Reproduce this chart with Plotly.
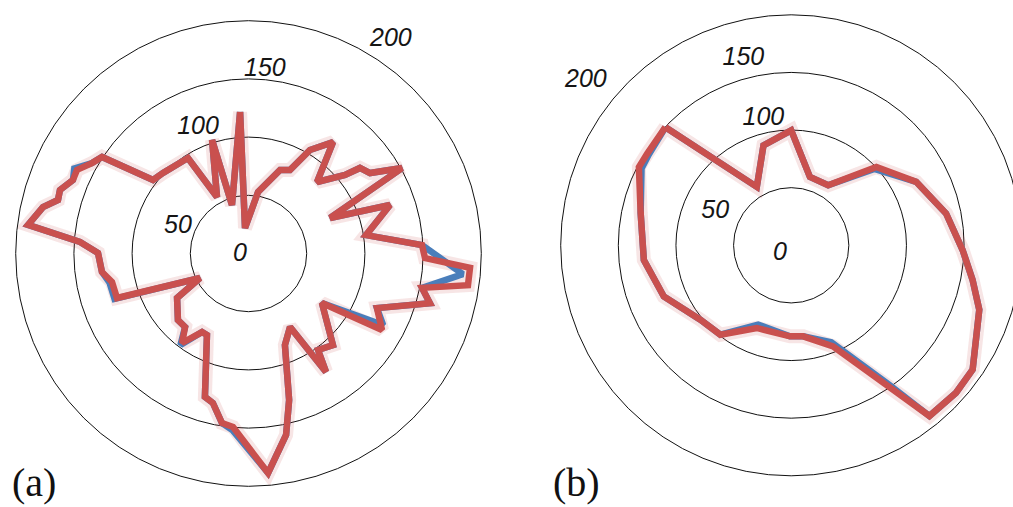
import plotly.graph_objects as go

# ---------------- data ----------------
# chart (a): angles in degrees (clockwise from north) and radial values
a_theta = [356.6, 352.2, 8.8, 20.7, 26.4, 30.7, 37.2, 43.8, 50.9, 52.5, 56.5, 60.9,
           66.5, 71.1, 81.1, 87.2, 91.5, 93.7, 98.2, 101.2, 105.3, 113.0, 119.8, 124.0,
           137.3, 144.2, 146.8, 150.5, 158.3, 164.5, 168.3, 174.9, 185.1, 188.9, 193.4,
           196.9, 207.0, 210.6, 216.6, 220.8, 226.7, 238.1, 243.2, 251.3, 258.2, 262.8,
           270.2, 273.9, 277.4, 282.7, 285.7, 288.6, 292.7, 296.0, 300.0, 303.4, 307.6,
           313.3, 327.6, 330.9, 342.2, 341.2]
a_red = [121.8, 22.1, 53.5, 76.7, 80.1, 103.4, 120.2, 85.1, 106.9, 120.7, 125.2, 150.9,
         76.4, 128.5, 102.2, 149.2, 151.7, 190.7, 190.5, 152.0, 161.6, 119.9, 132.2, 76.1,
         107.0, 102.2, 121.6, 72.5, 84.6, 130.6, 159.2, 189.3, 149.7, 147.4, 132.0,
         128.8, 78.6, 78.4, 95.8, 83.4, 83.3, 72.3, 46.7, 119.3, 119.8, 126.9,
         129.3, 145.1, 191.0, 181.0, 170.0, 170.9, 163.5, 163.9, 155.3, 150.7, 103.5,
         100.9, 97.1, 55.6, 102.4, 44.0]
a_theta_blue = [356.6, 352.2, 8.8, 20.7, 26.4, 30.7, 37.2, 43.8, 50.9, 52.5, 56.5, 60.9,
                66.5, 71.1, 81.1, 87.2, 95.5, 101.2, 105.3, 113.0, 118.0, 124.0,
                137.3, 144.2, 146.8, 150.5, 158.3, 164.5, 168.3, 174.9, 185.1, 188.9, 193.4,
                196.9, 207.0, 210.6, 216.6, 220.8, 226.7, 238.1, 243.2, 251.3, 258.2, 262.8,
                270.2, 273.9, 277.4, 282.7, 285.7, 288.6, 292.7, 296.0, 300.0, 303.4, 307.6,
                313.3, 327.6, 330.9, 342.2, 341.2]
a_blue = [121.8, 22.1, 53.5, 76.7, 80.1, 103.4, 120.2, 85.1, 106.9, 120.7, 125.2, 150.9,
          76.4, 128.5, 102.2, 149.2, 185.0, 152.0, 161.6, 119.9, 131.0, 76.1,
          107.0, 102.2, 121.6, 72.5, 84.6, 130.6, 159.2, 189.3, 152.5, 147.4, 132.0,
          128.8, 78.6, 78.4, 98.0, 83.4, 83.3, 72.3, 46.7, 121.5, 122.0, 126.9,
          129.3, 145.1, 191.0, 181.0, 170.0, 170.9, 163.5, 166.5, 155.3, 150.7, 103.5,
          100.9, 97.1, 55.6, 102.4, 44.0]

# chart (b)
b_theta = [313.2, 329.5, 344.5, 0.0, 15.3, 31.6, 47.4, 63.1, 78.4, 91.6, 100.8, 108.9,
           124.4, 131.8, 141.0, 144.9, 157.5, 172.5, 180.8, 202.6, 218.4, 230.7, 248.1,
           264.3, 282.1, 297.2, 302.5]
b_red = [149.7, 58.8, 90.0, 99.7, 61.5, 61.2, 100.4, 121.6, 137.2, 148.8, 160.2, 172.5,
         190.8, 191.9, 190.6, 152.9, 94.9, 79.7, 79.0, 77.7, 99.0, 101.9, 119.1,
         128.5, 133.6, 148.6, 148.1]
b_blue = [149.7, 58.8, 90.0, 99.7, 61.5, 61.2, 98.0, 121.6, 137.2, 148.8, 160.2, 172.5,
          190.8, 191.9, 190.6, 148.0, 91.0, 79.7, 79.0, 74.5, 99.0, 101.9, 119.1,
          128.5, 133.6, 146.0, 146.5]

# radial tick labels (0..150 drawn inside the plot, 200 lies outside the outer ring)
tick_labels = ["0", "50", "100", "150"]
outer_label = "200"
panel_labels = ["(a)", "(b)"]

# label placement (r, theta) in each chart
a_lab_r = [7.4, 64.7, 116.2, 158.3]
a_lab_t = [260.0, 290.6, 338.1, 5.1]
b_lab_r = [11.9, 72.0, 112.4, 166.8]
b_lab_t = [234.5, 293.8, 347.6, 345.6]

# ---------------- figure ----------------
W, H = 1022, 507
RED = "#C9504E"
BLUE = "#4A7EBB"
TICKFONT = dict(family="Liberation Sans", size=25, color="#151515", style="italic")


def closed(v):
    return list(v) + [v[0]]


fig = go.Figure()
for sub, th, red, thb, blue, lr, lt in [
    ("polar", a_theta, a_red, a_theta_blue, a_blue, a_lab_r, a_lab_t),
    ("polar2", b_theta, b_red, b_theta, b_blue, b_lab_r, b_lab_t),
]:
    fig.add_trace(go.Scatterpolar(r=closed(red), theta=closed(th), mode="lines",
                                  line=dict(color="rgba(201,80,78,0.15)", width=14),
                                  subplot=sub, hoverinfo="skip"))
    fig.add_trace(go.Scatterpolar(r=closed(blue), theta=closed(thb), mode="lines",
                                  line=dict(color=BLUE, width=6.5), subplot=sub))
    fig.add_trace(go.Scatterpolar(r=closed(red), theta=closed(th), mode="lines",
                                  line=dict(color=RED, width=6.5), subplot=sub))
    fig.add_trace(go.Scatterpolar(r=lr, theta=lt, mode="text", text=tick_labels,
                                  textposition="middle center", cliponaxis=False,
                                  textfont=TICKFONT, subplot=sub, hoverinfo="skip"))

polar_common = dict(
    bgcolor="rgba(0,0,0,0)",
    radialaxis=dict(range=[0, 200], dtick=50, showticklabels=False, ticks="",
                    showline=False, gridcolor="#111", gridwidth=1),
    angularaxis=dict(rotation=90, direction="clockwise", showticklabels=False,
                     ticks="", showgrid=False, showline=True, linecolor="#111",
                     linewidth=1),
)

panel_font = dict(family="Liberation Serif", size=40, color="#111")

fig.update_layout(
    width=W, height=H, margin=dict(l=0, r=0, t=0, b=0),
    paper_bgcolor="white", plot_bgcolor="white", showlegend=False,
    polar=dict(domain=dict(x=[15.7 / W, 481.3 / W], y=[1 - 486.3 / H, 1 - 20.7 / H]),
               **polar_common),
    polar2=dict(domain=dict(x=[560.7 / W, 1021.7 / W], y=[1 - 475.8 / H, 1 - 14.8 / H]),
                **polar_common),
    annotations=[
        dict(text=panel_labels[0], x=10 / W, y=0, xref="paper", yref="paper",
             xanchor="left", yanchor="bottom", showarrow=False, font=panel_font),
        dict(text=panel_labels[1], x=551 / W, y=0, xref="paper", yref="paper",
             xanchor="left", yanchor="bottom", showarrow=False, font=panel_font),
        dict(text=outer_label, x=390 / W, y=1 - 37 / H, xref="paper", yref="paper",
             xanchor="center", yanchor="middle", showarrow=False, font=TICKFONT),
        dict(text=outer_label, x=585 / W, y=1 - 78 / H, xref="paper", yref="paper",
             xanchor="center", yanchor="middle", showarrow=False, font=TICKFONT),
    ],
)

fig.write_html("out.html",
               post_script="document.documentElement.style.overflow='hidden';"
                           "document.body.style.overflow='hidden';")
